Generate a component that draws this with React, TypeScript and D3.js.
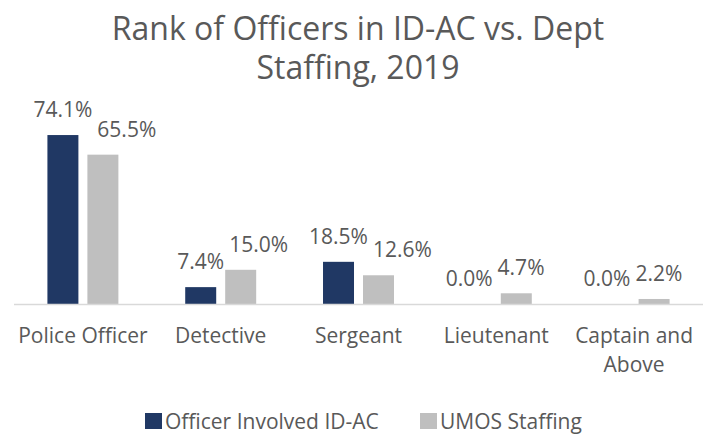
import React from "react";
import * as d3 from "d3";

const categories = ["Police Officer", "Detective", "Sergeant", "Lieutenant", "Captain and Above"];
const series = ["Officer Involved ID-AC", "UMOS Staffing"];
const idacValues = [74.1, 7.4, 18.5, 0.0, 0.0];
const staffingValues = [65.5, 15.0, 12.6, 4.7, 2.2];
const titleLines = ["Rank of Officers in ID-AC vs. Dept", "Staffing, 2019"];

const colors = ["#203864", "#BFBFBF"];
const textColor = "#595959";
const font = "'Open Sans', sans-serif";

const width = 712;
const height = 434;
const margin = { top: 0, right: 9, bottom: 130, left: 14 };
const baseline = 304;

let ctx: CanvasRenderingContext2D | null = null;
const measure = (txt: string, size: number) => {
  if (!ctx) ctx = document.createElement("canvas").getContext("2d");
  if (!ctx) return txt.length * size * 0.55;
  ctx.font = `${size}px 'Open Sans'`;
  return ctx.measureText(txt).width;
};

// wrap axis labels the way the chart does ("Captain and" / "Above")
const wrapLabel = (s: string) => {
  const words = s.split(" ");
  if (words.length > 2) return [words.slice(0, -1).join(" "), words[words.length - 1]];
  return [s];
};

export default function App() {
  const x = d3
    .scaleBand<string>()
    .domain(categories)
    .range([margin.left, width - margin.right])
    .paddingInner(0.485)
    .paddingOuter(0.2425);

  const xs = d3
    .scaleBand<string>()
    .domain(series)
    .range([0, x.bandwidth()])
    .paddingInner(0.225);

  const y = d3.scaleLinear().domain([0, 80]).range([baseline, baseline - 80 * 2.28]);

  const fmt = (v: number) => d3.format(".1f")(v) + "%";
  const labelSize = 21;

  const groups = categories.map((c, i) => {
    const vals = [idacValues[i], staffingValues[i]];
    const bars = vals.map((v, j) => {
      const x0 = (x(c) ?? 0) + (xs(series[j]) ?? 0);
      return { v, j, x0, cx: x0 + xs.bandwidth() / 2, w: measure(fmt(v), labelSize) };
    });
    // labels collide -> move them apart (zero bars give way to the left)
    const lx = bars.map((b) => b.cx);
    const rightEdge = lx[0] + bars[0].w / 2;
    const leftEdge = lx[1] - bars[1].w / 2;
    const overlap = rightEdge + 5 - leftEdge;
    if (overlap > 0) {
      if (vals[0] === 0) {
        lx[0] -= overlap * 0.6;
        lx[1] += overlap * 0.4;
      } else {
        lx[1] += overlap;
      }
    }
    return { c, bars, lx };
  });

  return (
    <svg width={width} height={height} style={{ position: "absolute", left: 0, top: 0, background: "#fff" }} fontFamily={font}>
      <rect width={width} height={height} fill="#fff" />
      {titleLines.map((t, i) => (
        <text key={t} x={358} y={40 + i * 39} textAnchor="middle" fontSize={32} fill={textColor}>
          {t}
        </text>
      ))}

      {groups.map((g) =>
        g.bars.map((b) => (
          <rect
            key={g.c + b.j}
            x={b.x0}
            y={y(b.v)}
            width={xs.bandwidth()}
            height={baseline - y(b.v)}
            fill={colors[b.j]}
          />
        ))
      )}

      <line x1={margin.left} x2={width - margin.right} y1={baseline + 0.5} y2={baseline + 0.5} stroke="#D9D9D9" strokeWidth={1.5} />

      {groups.map((g) =>
        g.bars.map((b) => (
          <text
            key={"l" + g.c + b.j}
            x={g.lx[b.j]}
            y={y(b.v) - 18}
            textAnchor="middle"
            fontSize={labelSize}
            fill={textColor}
          >
            {fmt(b.v)}
          </text>
        ))
      )}

      {categories.map((c) =>
        wrapLabel(c).map((line, k) => (
          <text
            key={c + k}
            x={(x(c) ?? 0) + x.bandwidth() / 2}
            y={343 + k * 29}
            textAnchor="middle"
            fontSize={21}
            fill={textColor}
          >
            {line}
          </text>
        ))
      )}

      {series.map((s, i) => {
        const lx = [145, 420][i];
        return (
          <g key={s}>
            <rect x={lx} y={413} width={17} height={16} fill={colors[i]} />
            <text x={lx + 20} y={428.5} fontSize={21} fill={textColor}>
              {s}
            </text>
          </g>
        );
      })}
    </svg>
  );
}
